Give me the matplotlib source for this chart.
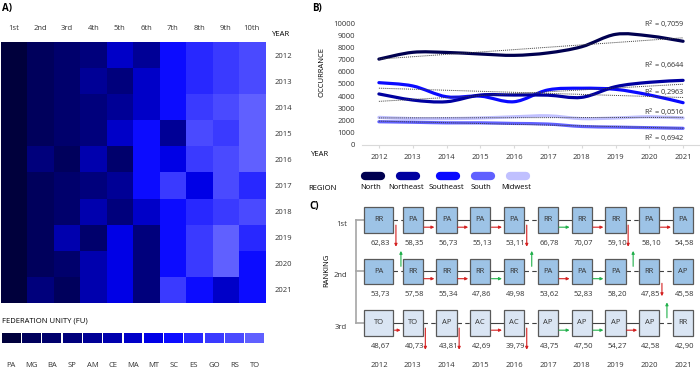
import numpy as np
import matplotlib
matplotlib.use("Agg")
import matplotlib.pyplot as plt
from matplotlib.colors import ListedColormap
from matplotlib.path import Path
from matplotlib.patches import PathPatch, Rectangle
from matplotlib.lines import Line2D

plt.rcParams['font.family'] = ['Open Sans', 'DejaVu Sans']
plt.rcParams['font.size'] = 5.5

# ---------------- data ----------------
years = [2012, 2013, 2014, 2015, 2016, 2017, 2018, 2019, 2020, 2021]
positions = ['1st', '2nd', '3rd', '4th', '5th', '6th', '7th', '8th', '9th', '10th']

# panel A: federation unity per year (rows) and position (columns)
fu_codes = ['PA', 'MG', 'BA', 'SP', 'AM', 'CE', 'MA', 'MT', 'SC', 'ES', 'GO', 'RS', 'TO']
fu_colors = ['#00003c', '#00005c', '#00006c', '#00007c', '#000096', '#0000ae',
             '#0000c8', '#0000e6', '#0c0cff', '#2828ff', '#3a3aff', '#4a4aff', '#6060ff']
heat_fu = [
    ['PA', 'MG', 'BA', 'SP', 'MA', 'AM', 'SC', 'ES', 'GO', 'RS'],
    ['PA', 'MG', 'BA', 'AM', 'SP', 'MA', 'SC', 'ES', 'GO', 'RS'],
    ['PA', 'MG', 'BA', 'SP', 'AM', 'MA', 'SC', 'GO', 'RS', 'TO'],
    ['PA', 'MG', 'BA', 'SP', 'MA', 'SC', 'AM', 'RS', 'GO', 'TO'],
    ['PA', 'SP', 'MG', 'CE', 'BA', 'SC', 'MT', 'GO', 'RS', 'TO'],
    ['PA', 'MG', 'BA', 'SP', 'AM', 'SC', 'GO', 'MT', 'RS', 'ES'],
    ['PA', 'MG', 'BA', 'CE', 'SP', 'MA', 'SC', 'ES', 'GO', 'RS'],
    ['PA', 'MG', 'CE', 'BA', 'MT', 'SP', 'SC', 'GO', 'TO', 'ES'],
    ['PA', 'MG', 'BA', 'CE', 'MT', 'SP', 'SC', 'GO', 'TO', 'SC'],
    ['PA', 'SP', 'MG', 'CE', 'MT', 'SP', 'GO', 'SC', 'MA', 'SC'],
]

# panel B: occurrences by region
regions = ['North', 'Northeast', 'Southeast', 'South', 'Midwest']
region_colors = ['#000050', '#0000a0', '#0a0aff', '#6060ff', '#c0c0ff']
north = [7050, 7610, 7600, 7470, 7360, 7560, 8070, 9090, 8960, 8520]
northeast = [4180, 3680, 3540, 4090, 4090, 4080, 3900, 4780, 5140, 5300]
southeast = [5110, 4840, 3950, 4000, 3540, 4510, 4650, 4560, 4100, 3460]
south = [1890, 1850, 1800, 1800, 1750, 1700, 1500, 1450, 1400, 1350]
midwest = [2250, 2150, 2150, 2200, 2300, 2380, 2150, 2200, 2300, 2200]
r2_labels = ['R$^2$ = 0,7059', 'R$^2$ = 0,6644', 'R$^2$ = 0,2963', 'R$^2$ = 0,0516', 'R$^2$ = 0,6942']
r2_y = [9860, 6480, 4260, 2610, 470]

# panel C: top three ranking
rank1 = ['RR', 'PA', 'PA', 'PA', 'PA', 'RR', 'RR', 'RR', 'PA', 'PA']
rank2 = ['PA', 'RR', 'RR', 'RR', 'RR', 'PA', 'PA', 'PA', 'RR', 'AP']
rank3 = ['TO', 'TO', 'AP', 'AC', 'AC', 'AP', 'AP', 'AP', 'AP', 'RR']
val1 = [62.83, 58.35, 56.73, 55.13, 53.11, 66.78, 70.07, 59.10, 58.10, 54.58]
val2 = [53.73, 57.58, 55.34, 47.86, 49.98, 53.62, 52.83, 58.20, 47.85, 45.58]
val3 = [48.67, 40.73, 43.81, 42.69, 39.79, 43.75, 47.50, 54.27, 42.58, 42.90]

W, H = 700, 370
fig = plt.figure(figsize=(7, 3.7), dpi=100)


def px_axes(x0, y0, x1, y1):
    return fig.add_axes([x0 / W, 1 - y1 / H, (x1 - x0) / W, (y1 - y0) / H])


# overlay for free text
ov = fig.add_axes([0, 0, 1, 1])
ov.set_xlim(0, W)
ov.set_ylim(H, 0)
ov.axis('off')
ov.text(2, 8, 'A)', fontsize=7, fontweight='bold', va='center')
ov.text(312, 8, 'B)', fontsize=7, fontweight='bold', va='center')
ov.text(309, 207, 'C)', fontsize=7, fontweight='bold', va='center')
ov.text(281, 34, 'YEAR', ha='center', va='center')
ov.text(2, 321, 'FEDERATION UNITY (FU)', va='center')
ov.text(320, 155, 'YEAR', ha='center', va='center')
ov.text(322, 188, 'REGION', ha='center', va='center')
ov.text(322, 72, 'OCCURRANCE', rotation=90, ha='center', va='center')
ov.text(327, 270, 'RANKING', rotation=90, ha='center', va='center')
ov.text(379, 365, '', ha='center')

# legend of panel B
leg_x = [373, 408, 448, 483, 518]
for xc, name, col in zip(leg_x, regions, region_colors):
    ov.add_line(Line2D([xc - 8, xc + 8], [176, 176], color=col, lw=6, solid_capstyle='round'))
    ov.text(xc - 2, 187.5, name, ha='center', va='center')

# ---------------- panel A ----------------
axA = px_axes(1, 42, 265, 303)
idx = np.array([[fu_codes.index(c) for c in row] for row in heat_fu])
cmap = ListedColormap(fu_colors)
axA.imshow(idx, cmap=cmap, vmin=-0.5, vmax=len(fu_codes) - 0.5, aspect='auto', interpolation='nearest')
axA.set_xticks(range(len(positions)))
axA.set_xticklabels(positions)
axA.set_yticks(range(len(years)))
axA.set_yticklabels(years)
axA.xaxis.tick_top()
axA.yaxis.tick_right()
axA.tick_params(length=0, pad=7, labelsize=5.5, labelcolor='#333333')
for s in axA.spines.values():
    s.set_visible(False)

axL = px_axes(1, 333, 265, 343)
axL.bar(range(len(fu_codes)), 1, width=0.93, color=fu_colors)
axL.set_xlim(-0.5, len(fu_codes) - 0.5)
axL.set_ylim(0, 1)
axL.set_xticks(range(len(fu_codes)))
axL.set_xticklabels(fu_codes)
axL.set_yticks([])
axL.tick_params(length=0, pad=14, labelsize=5.5, labelcolor='#333333')
for s in axL.spines.values():
    s.set_visible(False)

# ---------------- panel B ----------------
axB = px_axes(362, 23.3, 700, 144.7)
axB.set_xlim(2011.5, 2021.5)
axB.set_ylim(0, 10000)


def smooth_path(xs, ys):
    pts = np.column_stack([xs, ys]).astype(float)
    n = len(pts)
    verts = [pts[0]]
    codes = [Path.MOVETO]
    for i in range(n - 1):
        p0 = pts[i - 1] if i > 0 else pts[i]
        p1, p2 = pts[i], pts[i + 1]
        p3 = pts[i + 2] if i + 2 < n else pts[i + 1]
        verts += [p1 + (p2 - p0) / 6, p2 - (p3 - p1) / 6, p2]
        codes += [Path.CURVE4] * 3
    return Path(verts, codes)


series = [north, northeast, southeast, south, midwest]
order = [4, 3, 2, 1, 0]
for k in order:
    axB.add_patch(PathPatch(smooth_path(years, series[k]), fill=False,
                            edgecolor=region_colors[k], lw=2.3, capstyle='round', zorder=2))
for k in range(5):
    a, b = np.polyfit(years, series[k], 1)
    axB.plot([years[0], years[-1]], [a * years[0] + b, a * years[-1] + b],
             ls=(0, (1, 1)), color='#404040', lw=0.7, zorder=3)
for lab, yv in zip(r2_labels, r2_y):
    axB.text(2020.45, yv, lab, ha='center', va='center', fontsize=5.3, color='#333333')

axB.set_xticks(years)
axB.set_yticks(range(0, 10001, 1000))
axB.tick_params(axis='y', length=0, pad=5, labelsize=5.5, labelcolor='#333333')
axB.tick_params(axis='x', length=2, color='#d9d9d9', pad=5, labelsize=5.5, labelcolor='#333333')
for s in ['top', 'right', 'left']:
    axB.spines[s].set_visible(False)
axB.spines['bottom'].set_color('#d9d9d9')
axB.patch.set_alpha(0)

# ---------------- panel C ----------------
axC = px_axes(362, 200, 700, 370)
axC.set_xlim(2011.5, 2021.5)
axC.set_ylim(3.913, 0.612)
axC.axis('off')

ranks = [rank1, rank2, rank3]
vals = [val1, val2, val3]
fills = ['#9dc3e6', '#9dc3e6', '#dae5f3']
px = 1 / 33.8
bh = 0.49


def bw(i):
    return 0.86 if i == 0 else 0.6


for r in range(3):
    rr = r + 1
    for i, y in enumerate(years):
        w = bw(i)
        axC.add_patch(Rectangle((y - w / 2, rr - bh / 2), w, bh, facecolor=fills[r],
                                edgecolor='#595959', lw=0.9, zorder=3))
        axC.text(y, rr, ranks[r][i], ha='center', va='center', fontsize=5.5, color='#333333', zorder=4)
        axC.text(y + 0.05, rr + 0.45, f'{vals[r][i]:.2f}'.replace('.', ','),
                 ha='center', va='center', fontsize=5.5, color='#333333')
        if i < len(years) - 1:
            xa = y + w / 2
            xb = years[i + 1] - bw(i + 1) / 2
            same = ranks[r][i] == ranks[r][i + 1]
            axC.plot([xa, xb], [rr, rr], color='#404040', lw=0.8,
                     ls='-' if same else (0, (4, 3)), zorder=2)
            if same:
                up = vals[r][i + 1] > vals[r][i]
                axC.annotate('', xy=(xb - 2 * px, rr + 0.14), xytext=(xa + 1 * px, rr + 0.14),
                             arrowprops=dict(arrowstyle='-|>', color='#21b04b' if up else '#d42020',
                                             lw=0.8, mutation_scale=4, shrinkA=0, shrinkB=0))
    axC.text(2011.5 - 15 * px, rr + 0.08, ['1st', '2nd', '3rd'][r], ha='right', va='center',
             fontsize=5.5, color='#333333')

# transitions between ranks
for i in range(len(years) - 1):
    now = [ranks[r][i] for r in range(3)]
    nxt = [ranks[r][i + 1] for r in range(3)]
    xr = years[i] + bw(i) / 2 + 2.5 * px
    for r in range(3):
        rr = r + 1
        team = now[r]
        newpos = nxt.index(team) + 1 if team in nxt else 4
        if newpos > rr:
            y0, y1 = (rr + 0.1, rr + 0.52) if r < 2 or True else (rr + 0.1, rr + 0.5)
            if r == 1 and newpos == 3:
                y0, y1 = rr + 0.23, rr + 0.48
            axC.annotate('', xy=(xr, y1), xytext=(xr, y0),
                         arrowprops=dict(arrowstyle='-|>', color='#d42020', lw=0.8,
                                         mutation_scale=4, shrinkA=0, shrinkB=0))
        team2 = nxt[r]
        oldpos = now.index(team2) + 1 if team2 in now else 4
        if rr < oldpos <= 3:
            axC.annotate('', xy=(xr + 5 * px, rr + 0.6), xytext=(xr + 5 * px, oldpos - 0.1),
                         arrowprops=dict(arrowstyle='-|>', color='#21b04b', lw=0.8,
                                         mutation_scale=4, shrinkA=0, shrinkB=0))

# bracket on the left
bx = 2011.5 - 6 * px
axC.plot([bx, bx], [1, 3], color='#a6a6a6', lw=1.2, clip_on=False)
for rr in [1, 2, 3]:
    axC.plot([bx, 2012 - bw(0) / 2], [rr, rr], color='#a6a6a6', lw=1.2, clip_on=False)

for y in years:
    axC.text(y, 3.816, str(y), ha='center', va='center', fontsize=5.5, color='#333333')

fig.savefig('out.png', dpi=100)
